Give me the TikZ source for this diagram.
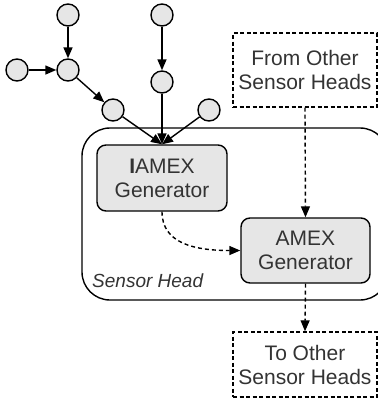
\documentclass[tikz,border=0pt]{standalone}
\usepackage{fontspec}
\setmainfont{Liberation Sans}
\usetikzlibrary{arrows.meta}
\definecolor{txt}{HTML}{333333}
\definecolor{fillg}{HTML}{E6E6E6}
\begin{document}
\begin{tikzpicture}[x=1pt,y=-1pt,
  dot/.style={circle,draw,line width=1.4pt,fill=fillg,minimum size=22pt,inner sep=0pt},
  genbox/.style={draw,line width=1.4pt,fill=fillg,rounded corners=9pt,align=center,text=txt,
    font=\fontsize{21}{24}\selectfont,inner sep=0pt},
  extbox/.style={draw,line width=1.4pt,dash pattern=on 4pt off 2.5pt,align=center,text=txt,
    font=\fontsize{21}{24}\selectfont,inner sep=0pt},
  arr/.style={line width=1.4pt,-{Triangle[length=11pt,width=9pt]}},
  darr/.style={arr,dash pattern=on 4pt off 3pt}]
\clip (0,0) rectangle (378,400);
\node[draw,line width=1.4pt,rounded corners=28pt,minimum width=306pt,minimum height=172pt,inner sep=0pt] (head) at (235,214) {};
\node[font=\fontsize{19}{22}\selectfont\itshape,text=txt,anchor=west,inner sep=0pt] (lbl) at (92,281) {Sensor Head};
\node[dot] (c1) at (68,15) {};
\node[dot] (c2) at (17,70) {};
\node[dot] (c3) at (68,70) {};
\node[dot] (c4) at (162,15) {};
\node[dot] (c5) at (162,82) {};
\node[dot] (c6) at (113,110) {};
\node[dot] (c7) at (209,110) {};
\node[genbox,minimum width=130pt,minimum height=66pt] (iam) at (162,178) {\textbf{I}AMEX\\Generator};
\node[genbox,minimum width=129pt,minimum height=65pt] (amex) at (305.5,250.5) {AMEX\\Generator};
\node[extbox,minimum width=144pt,minimum height=74pt] (from) at (305,70) {From Other\\Sensor Heads};
\node[extbox,minimum width=144pt,minimum height=65pt] (to) at (305,364.5) {To Other\\Sensor Heads};
\draw[arr] (c1) -- (c3);
\draw[arr] (c2) -- (c3);
\draw[arr] (c3) -- (c6);
\draw[arr] (c4) -- (c5);
\draw[arr] (c6) -- (iam.north);
\draw[arr] (c5) -- (iam.north);
\draw[arr] (c7) -- (iam.north);
\draw[darr] (from.south) -- (amex.north);
\draw[darr] (amex.south) -- (to.north);
\draw[darr] (iam.south) .. controls +(0,32) and +(-45,0) .. (amex.west);
\end{tikzpicture}
\end{document}
